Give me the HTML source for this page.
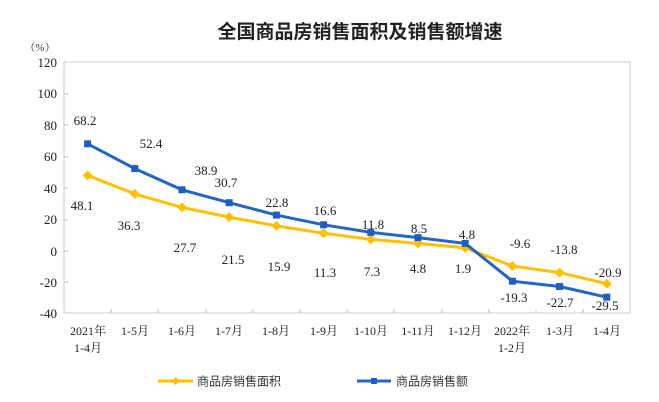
<!DOCTYPE html>
<html><head><meta charset="utf-8"><style>
html,body{margin:0;padding:0;background:#fff;}
svg{display:block;font-family:"Liberation Serif","Noto Serif CJK SC",serif;}
</style></head><body>
<svg width="659" height="402" viewBox="0 0 659 402">
<text x="360" y="38" text-anchor="middle" font-size="19" font-weight="bold" fill="#222" font-family="'Liberation Sans','Noto Sans CJK SC',sans-serif">全国商品房销售面积及销售额增速</text>
<text x="40" y="51" text-anchor="middle" font-size="11" fill="#333">（%）</text>
<rect x="64" y="62" width="566" height="251" fill="none" stroke="#ccc" stroke-width="1"/>
<g font-size="13" fill="#222" text-anchor="end">
<text x="57" y="67">120</text><text x="57" y="98">100</text><text x="57" y="130">80</text><text x="57" y="161">60</text><text x="57" y="193">40</text><text x="57" y="224">20</text><text x="57" y="256">0</text><text x="57" y="287">-20</text><text x="57" y="318">-40</text>
</g>
<g stroke="#bbb">
<line x1="64" y1="94" x2="68" y2="94"/><line x1="64" y1="125" x2="68" y2="125"/><line x1="64" y1="157" x2="68" y2="157"/><line x1="64" y1="188" x2="68" y2="188"/><line x1="64" y1="220" x2="68" y2="220"/><line x1="64" y1="251" x2="68" y2="251"/><line x1="64" y1="282" x2="68" y2="282"/>
<line x1="111" y1="313" x2="111" y2="309"/><line x1="158" y1="313" x2="158" y2="309"/><line x1="206" y1="313" x2="206" y2="309"/><line x1="253" y1="313" x2="253" y2="309"/><line x1="300" y1="313" x2="300" y2="309"/><line x1="347" y1="313" x2="347" y2="309"/><line x1="394" y1="313" x2="394" y2="309"/><line x1="442" y1="313" x2="442" y2="309"/><line x1="489" y1="313" x2="489" y2="309"/><line x1="536" y1="313" x2="536" y2="309"/><line x1="583" y1="313" x2="583" y2="309"/>
</g>
<g font-size="12" fill="#222" text-anchor="middle">
<text x="88" y="335">2021年</text><text x="88" y="352">1-4月</text>
<text x="135" y="335">1-5月</text><text x="182" y="335">1-6月</text><text x="229" y="335">1-7月</text><text x="276" y="335">1-8月</text><text x="324" y="335">1-9月</text><text x="371" y="335">1-10月</text><text x="418" y="335">1-11月</text><text x="465" y="335">1-12月</text>
<text x="512" y="335">2022年</text><text x="512" y="352">1-2月</text>
<text x="560" y="335">1-3月</text><text x="607" y="335">1-4月</text>
</g>
<polyline fill="none" stroke="#FFC000" stroke-width="3" points="87.6,175.4 134.8,193.9 182,207.4 229.2,217.1 276.4,225.9 323.6,233.2 370.8,239.4 418,243.4 465.2,247.9 512.4,266 559.6,272.6 606.8,283.7"/>
<g fill="#FFC000">
<path d="M87.6,170.4l5,5l-5,5l-5,-5z"/><path d="M134.8,188.9l5,5l-5,5l-5,-5z"/><path d="M182,202.4l5,5l-5,5l-5,-5z"/><path d="M229.2,212.1l5,5l-5,5l-5,-5z"/><path d="M276.4,220.9l5,5l-5,5l-5,-5z"/><path d="M323.6,228.2l5,5l-5,5l-5,-5z"/><path d="M370.8,234.4l5,5l-5,5l-5,-5z"/><path d="M418,238.4l5,5l-5,5l-5,-5z"/><path d="M465.2,242.9l5,5l-5,5l-5,-5z"/><path d="M512.4,261l5,5l-5,5l-5,-5z"/><path d="M559.6,267.6l5,5l-5,5l-5,-5z"/><path d="M606.8,278.7l5,5l-5,5l-5,-5z"/>
</g>
<polyline fill="none" stroke="#2267C4" stroke-width="3" points="87.6,143.8 134.8,168.6 182,189.8 229.2,202.7 276.4,215.1 323.6,224.8 370.8,232.4 418,237.6 465.2,243.4 512.4,281.2 559.6,286.5 606.8,297.2"/>
<g fill="#1F5FC0">
<rect x="84.1" y="140.3" width="7" height="7"/><rect x="131.3" y="165.1" width="7" height="7"/><rect x="178.5" y="186.3" width="7" height="7"/><rect x="225.7" y="199.2" width="7" height="7"/><rect x="272.9" y="211.6" width="7" height="7"/><rect x="320.1" y="221.3" width="7" height="7"/><rect x="367.3" y="228.9" width="7" height="7"/><rect x="414.5" y="234.1" width="7" height="7"/><rect x="461.7" y="239.9" width="7" height="7"/><rect x="508.9" y="277.7" width="7" height="7"/><rect x="556.1" y="283" width="7" height="7"/><rect x="603.3" y="293.7" width="7" height="7"/>
</g>
<g font-size="13" fill="#222" text-anchor="middle">
<text x="82" y="210">48.1</text><text x="129" y="230">36.3</text><text x="185" y="252">27.7</text><text x="233" y="264">21.5</text><text x="279" y="271">15.9</text><text x="325" y="277">11.3</text><text x="372" y="276">7.3</text><text x="418" y="273">4.8</text><text x="463" y="273">1.9</text><text x="520" y="248">-9.6</text><text x="564" y="254">-13.8</text><text x="608" y="277">-20.9</text>
<text x="85" y="125">68.2</text><text x="151" y="148">52.4</text><text x="206" y="175">38.9</text><text x="226" y="187">30.7</text><text x="277" y="207">22.8</text><text x="325" y="215">16.6</text><text x="373" y="229">11.8</text><text x="419" y="233">8.5</text><text x="467" y="239">4.8</text><text x="514" y="302">-19.3</text><text x="560" y="307">-22.7</text><text x="605" y="310">-29.5</text>
</g>
<line x1="158" y1="381" x2="193" y2="381" stroke="#FFC000" stroke-width="3"/>
<path d="M175.5,377l4,4l-4,4l-4,-4z" fill="#FFC000"/>
<text x="197" y="385.5" font-size="12" fill="#333" font-family="'Liberation Sans','Noto Sans CJK SC',sans-serif">商品房销售面积</text>
<line x1="357" y1="381" x2="391" y2="381" stroke="#2267C4" stroke-width="3"/>
<rect x="371" y="378" width="6" height="6" fill="#1F5FC0"/>
<text x="396" y="385.5" font-size="12" fill="#333" font-family="'Liberation Sans','Noto Sans CJK SC',sans-serif">商品房销售额</text>
</svg>
</body></html>
